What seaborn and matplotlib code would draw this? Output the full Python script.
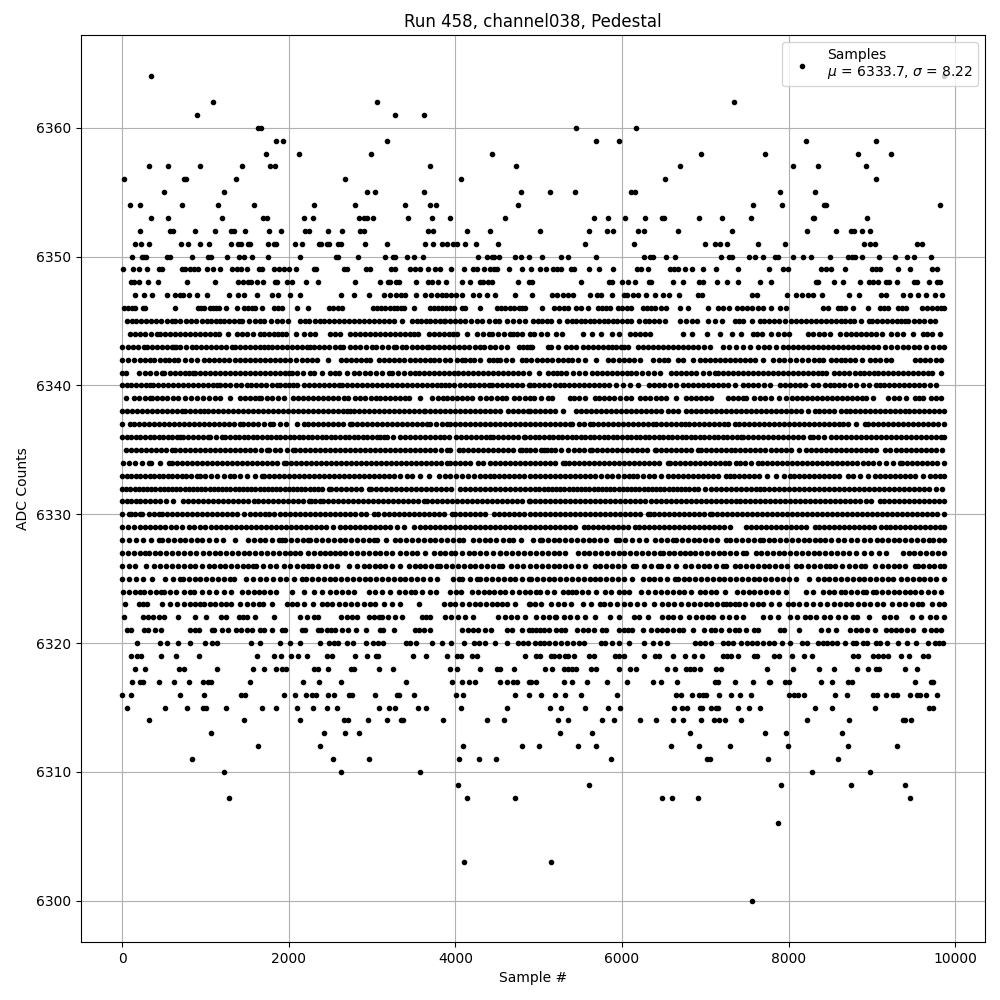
import matplotlib
matplotlib.use("Agg")
import matplotlib.pyplot as plt
import pandas as pd
import seaborn as sns

# sample numbers per ADC level.
# sparse levels are dot by dot, in the dense middle the dots overlap so positions are estimates
x_6364 = [344, 9864]
x_6362 = [1088, 3056, 7344]
x_6361 = [896, 3272, 3620]
x_6360 = [1632, 1672, 5448, 6168]
x_6359 = [1844, 1928, 3176, 5688, 5964, 8208, 9048]
x_6358 = [1724, 2120, 2984, 4436, 6948, 7716, 8832, 9228]
x_6357 = [320, 552, 932, 1436, 1772, 1832, 3692, 4724, 6696, 8052, 8352, 8928]
x_6356 = [20, 740, 772, 1364, 2672, 4064, 6516, 9048]
x_6355 = [500, 1220, 2936, 3032, 3620, 4784, 5136, 5436, 6108, 6156, 7896, 8316]
x_6354 = [92, 212, 716, 1148, 1580, 2300, 2792, 3392, 3692, 3764, 4748, 7572, 7920, 8424, 8448, 9816]
x_6353 = [344, 552, 1196, 1688, 1736, 2180, 2288, 2840, 2900, 2936, 3008, 3428, 3716, 3932, 4592, 5664, 5832, 6036,
          6276, 6480, 6504, 6924, 7200, 7548, 8292, 8304, 8940]
x_6352 = [212, 580, 612, 872, 1112, 1308, 1340, 1472, 1760, 1904, 2192, 2240, 2468, 2636, 2860, 2900, 3668, 3728,
          4136, 4420, 5016, 5604, 5820, 5892, 6192, 6264, 6672, 7320, 8220, 8568, 8748, 8784, 8880, 8976]
x_6351 = [152, 224, 320, 704, 788, 932, 1040, 1304, 1392, 1428, 1508, 1540, 1748, 1820, 1852, 2072, 2156, 2360, 2388,
          2460, 2484, 2588, 2632, 2912, 3176, 3632, 3728, 3836, 3896, 3968, 4016, 4112, 4244, 4508, 5556, 6144, 6996,
          7116, 7176, 7260, 7632, 7956, 8904, 8976, 9036, 9540, 9600]
x_6350 = [116, 236, 260, 288, 540, 572, 836, 1028, 1068, 1256, 1400, 1460, 1556, 1748, 2132, 2564, 2588, 2828, 3152,
          3248, 3276, 3416, 3500, 3608, 4268, 4376, 4436, 4460, 4520, 4712, 4784, 4880, 5040, 5268, 5352, 5688, 6264,
          6336, 6372, 6528, 6636, 7188, 7284, 7320, 7524, 7596, 7692, 7836, 7872, 8052, 8172, 8268, 8496, 8712, 8760,
          8796, 8880, 9084, 9276, 9420, 9504, 9708]
x_6349 = [8, 128, 200, 296, 440, 476, 716, 752, 812, 860, 908, 1016, 1088, 1172, 1316, 1376, 1424, 1496, 1640, 1676,
          1820, 1880, 1940, 2000, 2084, 2300, 2324, 2660, 2696, 2924, 2972, 3224, 3272, 3452, 3512, 3572, 3668, 3752,
          3812, 3944, 4100, 4208, 4260, 4340, 4412, 4460, 4496, 4640, 4796, 4912, 5016, 5092, 5172, 5220, 5268, 5388,
          5424, 5604, 5724, 5892, 6180, 6228, 6312, 6576, 6624, 6672, 6756, 6840, 6972, 7128, 7392, 7764, 7932, 7992,
          8388, 8448, 8508, 8676, 9000, 9048, 9096, 9312, 9456, 9720, 9780]
x_6348 = [104, 140, 200, 308, 428, 776, 1112, 1388, 1448, 1508, 1544, 1616, 1688, 1832, 1860, 1976, 2036, 2204, 2348,
          2792, 3092, 3188, 3212, 3284, 3320, 3524, 3668, 3716, 3788, 3884, 4076, 4172, 4292, 4328, 4388, 4436, 4748,
          4880, 4920, 5508, 5844, 5880, 6000, 6072, 6156, 6324, 6348, 6612, 6732, 6924, 6972, 7140, 7260, 7392, 7656,
          7788, 8328, 8352, 8544, 8652, 8856, 8964, 9012, 9072, 9168, 9204, 9300, 9504, 9540, 9684, 9780, 9816]
x_6347 = [152, 260, 356, 536, 632, 692, 728, 800, 896, 1016, 1280, 1388, 1460, 1616, 1796, 1868, 2012, 2132, 2624,
          2780, 2960, 3140, 3212, 3284, 3344, 3392, 3524, 3632, 3704, 3776, 3836, 3884, 3944, 4004, 4076, 4208, 4280,
          4376, 4472, 4712, 4920, 5160, 5220, 5292, 5352, 5412, 5616, 5700, 5748, 5880, 6024, 6060, 6132, 6192, 6284,
          6396, 6492, 6564, 6684, 6912, 6960, 7560, 7620, 7984, 8088, 8160, 8232, 8292, 8400, 8724, 8844, 9108, 9168,
          9372, 9456, 9552, 9648, 9756, 9840]
x_6346 = [28, 70, 115, 160, 252, 280, 632, 908, 950, 988, 1052, 1095, 1132, 1168, 1252, 1376, 1468, 1510, 1555, 1600,
          1680, 1828, 1875, 1920, 2096, 2228, 2480, 2530, 2590, 2640, 3012, 3060, 3110, 3160, 3215, 3260, 3300, 3345,
          3388, 3500, 3692, 3740, 3790, 3840, 3890, 3935, 3980, 4080, 4120, 4292, 4500, 4550, 4600, 4650, 4700, 4760,
          4800, 4840, 5044, 5180, 5244, 5300, 5352, 5452, 5512, 5592, 5712, 5760, 5810, 5852, 5952, 6000, 6060, 6112,
          6252, 6300, 6350, 6400, 6470, 6524, 6700, 6796, 7032, 7152, 7215, 7280, 7380, 7440, 7500, 7560, 7630, 7692,
          7788, 7900, 7972, 8412, 8472, 8592, 8630, 8672, 8772, 8948, 9092, 9140, 9192, 9312, 9360, 9412, 9604, 9660,
          9720, 9780, 9830, 9860]
x_6345 = [60, 115, 170, 230, 290, 350, 410, 470, 535, 600, 640, 700, 765, 828, 888, 960, 1015, 1070, 1125, 1180, 1220,
          1280, 1340, 1400, 1440, 1520, 1600, 1650, 1700, 1792, 1860, 1925, 1988, 2132, 2190, 2240, 2320, 2370, 2420,
          2480, 2540, 2600, 2660, 2720, 2780, 2840, 2900, 2960, 3020, 3080, 3140, 3205, 3268, 3360, 3480, 3535, 3590,
          3645, 3700, 3755, 3810, 3860, 3880, 3940, 4000, 4060, 4120, 4190, 4260, 4320, 4400, 4480, 4520, 4620, 4690,
          4760, 4830, 4932, 4990, 5045, 5100, 5152, 5244, 5340, 5395, 5450, 5505, 5560, 5615, 5670, 5725, 5780, 5835,
          5890, 5945, 6000, 6055, 6112, 6204, 6272, 6330, 6390, 6450, 6512, 6700, 6770, 6840, 6904, 7032, 7120, 7204,
          7352, 7400, 7452, 7560, 7652, 7710, 7770, 7830, 7890, 7960, 8032, 8092, 8150, 8210, 8270, 8330, 8390, 8450,
          8510, 8570, 8630, 8680, 8732, 8780, 8870, 8964, 9004, 9060, 9120, 9180, 9240, 9300, 9350, 9396, 9432, 9500,
          9560, 9630, 9692, 9760]
x_6344 = [100, 160, 220, 280, 350, 420, 460, 520, 580, 640, 700, 760, 820, 880, 940, 1000, 1055, 1112, 1168, 1268,
          1380, 1440, 1500, 1575, 1652, 1700, 1765, 1828, 1868, 1920, 1972, 2084, 2188, 2250, 2320, 2492, 2550, 2612,
          2732, 2790, 2850, 2910, 2970, 3030, 3090, 3150, 3210, 3270, 3330, 3390, 3450, 3500, 3552, 3680, 3740, 3800,
          3860, 3920, 3970, 4020, 4140, 4260, 4330, 4400, 4440, 4510, 4580, 4652, 4692, 4745, 4800, 4892, 4950, 5025,
          5100, 5212, 5280, 5532, 5640, 5748, 5880, 5964, 6100, 6160, 6220, 6280, 6332, 6732, 6840, 7020, 7176, 7320,
          7428, 7572, 7625, 7680, 7788, 7872, 7940, 8004, 8232, 8295, 8360, 8425, 8492, 8612, 8692, 8750, 8810, 8870,
          8930, 8990, 9050, 9120, 9232, 9300, 9372, 9492, 9612, 9660, 9724, 9820]
x_6343 = [0, 65, 130, 195, 260, 300, 360, 420, 480, 540, 600, 628, 652, 700, 764, 844, 892, 950, 1010, 1070, 1130,
          1190, 1250, 1320, 1360, 1420, 1480, 1540, 1600, 1650, 1700, 1748, 1805, 1860, 1920, 1980, 2040, 2100, 2160,
          2215, 2260, 2300, 2360, 2420, 2480, 2550, 2612, 2652, 2730, 2800, 2860, 2930, 3000, 3052, 3120, 3190, 3260,
          3292, 3360, 3412, 3475, 3540, 3600, 3660, 3680, 3740, 3800, 3860, 3920, 3980, 4040, 4100, 4160, 4230, 4300,
          4340, 4410, 4480, 4550, 4620, 4760, 4810, 4860, 4892, 4924, 5112, 5152, 5232, 5332, 5392, 5444, 5532, 5590,
          5650, 5710, 5770, 5830, 5880, 5932, 5992, 6030, 6072, 6192, 6250, 6310, 6370, 6430, 6490, 6550, 6610, 6670,
          6730, 6790, 6850, 6910, 6980, 7052, 7212, 7290, 7372, 7452, 7532, 7632, 7700, 7770, 7850, 7932, 7992, 8050,
          8110, 8170, 8230, 8290, 8350, 8410, 8470, 8530, 8592, 8652, 8710, 8770, 8830, 8890, 8950, 9010, 9070, 9152,
          9232, 9300, 9370, 9432, 9500, 9570, 9652, 9732, 9800, 9860]
x_6342 = [0, 70, 140, 212, 280, 335, 388, 452, 510, 565, 620, 668, 760, 830, 900, 980, 1040, 1100, 1160, 1220, 1280,
          1350, 1420, 1480, 1540, 1600, 1660, 1720, 1780, 1840, 1900, 1960, 2020, 2090, 2160, 2220, 2280, 2340, 2468,
          2628, 2690, 2750, 2810, 2870, 2930, 2980, 3080, 3140, 3200, 3260, 3320, 3380, 3450, 3520, 3580, 3640, 3700,
          3740, 3800, 3870, 3940, 4020, 4080, 4120, 4170, 4220, 4300, 4400, 4450, 4500, 4540, 4610, 4680, 4800, 4850,
          4912, 4975, 5040, 5100, 5165, 5232, 5292, 5350, 5404, 5472, 5552, 5692, 5832, 5895, 5960, 6020, 6085, 6150,
          6212, 6372, 6440, 6500, 6552, 6672, 6732, 6852, 6932, 6992, 7052, 7115, 7180, 7240, 7300, 7360, 7420, 7472,
          7532, 7592, 7692, 7812, 7880, 7950, 8020, 8090, 8160, 8230, 8300, 8360, 8412, 8512, 8570, 8630, 8680, 8732,
          8792, 8880, 8972, 9032, 9100, 9165, 9232, 9512, 9575, 9640, 9700, 9770, 9832]
x_6341 = [0, 52, 200, 270, 340, 410, 480, 508, 570, 630, 690, 750, 800, 852, 880, 940, 1000, 1060, 1120, 1180, 1240,
          1300, 1360, 1420, 1480, 1540, 1600, 1660, 1720, 1780, 1840, 1900, 1950, 2000, 2040, 2100, 2175, 2252, 2300,
          2400, 2500, 2550, 2600, 2700, 2780, 2840, 2910, 2980, 3050, 3120, 3200, 3240, 3310, 3380, 3450, 3520, 3560,
          3620, 3680, 3740, 3800, 3860, 3920, 3980, 4028, 4090, 4150, 4210, 4270, 4330, 4390, 4450, 4510, 4570, 4630,
          4690, 4750, 4815, 4880, 5004, 5112, 5170, 5225, 5272, 5332, 5410, 5490, 5552, 5644, 5700, 5760, 5820, 5880,
          5940, 6000, 6060, 6112, 6172, 6240, 6310, 6380, 6460, 6592, 6652, 6710, 6770, 6830, 6892, 6972, 7040, 7112,
          7152, 7210, 7270, 7330, 7390, 7450, 7510, 7570, 7630, 7690, 7750, 7810, 7870, 7930, 7990, 8050, 8110, 8170,
          8230, 8290, 8350, 8400, 8452, 8540, 8600, 8660, 8730, 8792, 8852, 8910, 8970, 9020, 9072, 9132, 9190, 9250,
          9310, 9370, 9430, 9490, 9552, 9612, 9670, 9724, 9832]
x_6340 = [0, 55, 110, 170, 225, 285, 340, 372, 430, 490, 550, 610, 670, 730, 790, 850, 910, 970, 1030, 1090, 1140, 1180,
          1240, 1300, 1365, 1428, 1500, 1552, 1610, 1670, 1730, 1800, 1860, 1900, 1950, 2000, 2050, 2100, 2180, 2240,
          2300, 2360, 2420, 2480, 2540, 2600, 2640, 2700, 2760, 2820, 2880, 2940, 3000, 3060, 3120, 3180, 3240, 3300,
          3360, 3420, 3480, 3540, 3600, 3660, 3720, 3780, 3830, 3880, 3920, 3985, 4050, 4115, 4180, 4228, 4285, 4345,
          4400, 4440, 4500, 4560, 4620, 4680, 4740, 4800, 4880, 4892, 4950, 5010, 5070, 5130, 5192, 5252, 5310, 5370,
          5430, 5490, 5550, 5610, 5670, 5730, 5790, 5850, 5932, 6012, 6092, 6192, 6324, 6380, 6440, 6500, 6580, 6652,
          6732, 6790, 6850, 6910, 6970, 7030, 7090, 7150, 7210, 7270, 7352, 7452, 7510, 7570, 7630, 7700, 7772, 7900,
          7960, 8020, 8080, 8140, 8200, 8292, 8352, 8432, 8492, 8550, 8610, 8670, 8740, 8812, 8892, 8970, 9052, 9092,
          9150, 9210, 9270, 9330, 9390, 9450, 9510, 9570, 9630, 9700, 9772]
x_6339 = [48, 140, 200, 270, 340, 360, 420, 480, 540, 610, 668, 760, 830, 900, 970, 1040, 1110, 1172, 1292, 1420, 1480,
          1540, 1590, 1640, 1668, 1735, 1800, 1872, 1940, 2052, 2110, 2170, 2230, 2290, 2350, 2410, 2470, 2530, 2595,
          2660, 2708, 2800, 2860, 2920, 2985, 3052, 3100, 3160, 3220, 3280, 3340, 3390, 3440, 3572, 3720, 3788, 3850,
          3905, 3960, 4020, 4080, 4140, 4200, 4300, 4365, 4430, 4495, 4560, 4612, 4700, 4765, 4830, 4900, 4950, 5032,
          5112, 5164, 5372, 5430, 5490, 5552, 5672, 5730, 5790, 5850, 5910, 5980, 6050, 6112, 6212, 6275, 6340, 6405,
          6472, 6532, 6652, 6772, 6830, 6890, 6950, 7010, 7072, 7272, 7330, 7390, 7452, 7492, 7580, 7652, 7720, 7792,
          7884, 7972, 8040, 8100, 8160, 8220, 8280, 8340, 8400, 8460, 8520, 8580, 8640, 8700, 8760, 8820, 8880, 8932,
          9012, 9192, 9260, 9330, 9412, 9512, 9565, 9612, 9712, 9770, 9832]
x_6338 = [0, 60, 120, 180, 240, 300, 360, 420, 480, 540, 600, 660, 720, 760, 820, 880, 930, 980, 1028, 1090, 1150, 1210,
          1270, 1330, 1390, 1450, 1510, 1570, 1630, 1690, 1750, 1810, 1870, 1930, 1990, 2050, 2110, 2170, 2230, 2290,
          2350, 2410, 2470, 2530, 2590, 2650, 2700, 2740, 2780, 2840, 2900, 2960, 3020, 3080, 3140, 3200, 3260, 3320,
          3380, 3440, 3500, 3560, 3620, 3640, 3700, 3760, 3820, 3880, 3940, 4000, 4060, 4120, 4180, 4240, 4300, 4360,
          4420, 4480, 4540, 4628, 4690, 4750, 4810, 4870, 4900, 4960, 5020, 5080, 5140, 5200, 5292, 5452, 5510, 5570,
          5630, 5690, 5750, 5810, 5870, 5930, 5990, 6050, 6110, 6170, 6230, 6290, 6350, 6410, 6470, 6552, 6612, 6672,
          6772, 6830, 6890, 6950, 7010, 7070, 7130, 7190, 7250, 7310, 7370, 7430, 7490, 7550, 7610, 7670, 7730, 7790,
          7850, 7910, 7970, 8030, 8090, 8150, 8232, 8312, 8370, 8430, 8490, 8550, 8632, 8684, 8740, 8800, 8860, 8920,
          8980, 9040, 9100, 9160, 9220, 9280, 9340, 9392, 9444, 9500, 9560, 9620, 9680, 9740, 9800, 9860]
x_6337 = [0, 100, 140, 200, 260, 320, 380, 440, 500, 560, 620, 680, 740, 800, 860, 920, 980, 1040, 1100, 1160, 1220,
          1280, 1340, 1420, 1452, 1510, 1570, 1630, 1700, 1780, 1812, 1890, 1972, 2100, 2180, 2228, 2290, 2350, 2410,
          2470, 2530, 2590, 2650, 2740, 2760, 2820, 2880, 2940, 3000, 3060, 3120, 3180, 3240, 3300, 3360, 3420, 3480,
          3540, 3600, 3660, 3700, 3770, 3840, 3900, 3940, 4000, 4060, 4120, 4180, 4240, 4300, 4360, 4420, 4480, 4540,
          4600, 4660, 4720, 4780, 4840, 4900, 4960, 5020, 5080, 5140, 5200, 5260, 5320, 5372, 5404, 5480, 5550, 5612,
          5652, 5710, 5770, 5830, 5890, 5950, 6010, 6070, 6130, 6190, 6250, 6310, 6372, 6412, 6470, 6530, 6590, 6650,
          6712, 6752, 6810, 6870, 6930, 6990, 7050, 7110, 7170, 7220, 7272, 7352, 7410, 7470, 7530, 7590, 7650, 7710,
          7770, 7830, 7890, 7950, 8010, 8070, 8130, 8190, 8250, 8310, 8370, 8430, 8490, 8550, 8610, 8652, 8712, 8810,
          8912, 8952, 9010, 9070, 9130, 9190, 9250, 9310, 9370, 9430, 9490, 9550, 9610, 9670, 9732, 9792, 9864]
x_6336 = [0, 55, 110, 165, 220, 275, 330, 385, 440, 495, 550, 605, 660, 700, 732, 790, 850, 910, 970, 1028, 1060, 1130,
          1200, 1240, 1295, 1350, 1405, 1460, 1515, 1570, 1625, 1680, 1735, 1790, 1845, 1900, 1955, 2010, 2065, 2120,
          2175, 2230, 2285, 2340, 2395, 2450, 2505, 2560, 2615, 2670, 2725, 2780, 2835, 2890, 2945, 3000, 3055, 3100,
          3140, 3180, 3250, 3330, 3400, 3452, 3510, 3570, 3630, 3690, 3750, 3810, 3860, 3920, 4012, 4070, 4130, 4190,
          4250, 4310, 4370, 4420, 4452, 4510, 4570, 4630, 4690, 4750, 4820, 4840, 4900, 4955, 5010, 5065, 5120, 5175,
          5230, 5285, 5340, 5395, 5450, 5505, 5560, 5615, 5670, 5725, 5780, 5835, 5890, 5945, 6000, 6055, 6110, 6165,
          6220, 6275, 6330, 6385, 6440, 6495, 6550, 6605, 6660, 6715, 6770, 6825, 6880, 6935, 6990, 7045, 7100, 7155,
          7210, 7265, 7320, 7375, 7432, 7452, 7510, 7570, 7630, 7690, 7750, 7810, 7870, 7930, 7990, 8050, 8110, 8170,
          8260, 8292, 8350, 8420, 8512, 8572, 8630, 8690, 8750, 8810, 8870, 8930, 8990, 9050, 9110, 9170, 9230, 9290,
          9350, 9410, 9470, 9530, 9590, 9650, 9710, 9770, 9830, 9864]
x_6335 = [52, 110, 170, 230, 290, 350, 410, 470, 530, 600, 640, 700, 760, 820, 880, 940, 1000, 1060, 1120, 1180, 1240,
          1300, 1360, 1420, 1480, 1540, 1600, 1670, 1740, 1760, 1830, 1900, 1975, 2052, 2080, 2140, 2200, 2260, 2320,
          2380, 2440, 2500, 2560, 2620, 2680, 2740, 2800, 2860, 2920, 2980, 3040, 3100, 3160, 3220, 3280, 3340, 3400,
          3460, 3520, 3580, 3640, 3700, 3760, 3830, 3900, 3940, 4040, 4092, 4150, 4210, 4270, 4330, 4390, 4450, 4510,
          4570, 4630, 4690, 4780, 4800, 4850, 4900, 4960, 5032, 5060, 5100, 5152, 5192, 5270, 5352, 5424, 5490, 5550,
          5612, 5644, 5700, 5760, 5820, 5880, 5940, 6000, 6060, 6120, 6180, 6240, 6300, 6392, 6412, 6470, 6530, 6590,
          6650, 6710, 6770, 6830, 6912, 6952, 7010, 7070, 7130, 7190, 7250, 7312, 7360, 7420, 7480, 7540, 7600, 7660,
          7720, 7790, 7852, 7912, 7970, 8030, 8124, 8212, 8270, 8330, 8390, 8450, 8510, 8570, 8630, 8690, 8750, 8810,
          8870, 8930, 8990, 9050, 9152, 9212, 9292, 9350, 9410, 9470, 9530, 9590, 9650, 9710, 9770, 9844]
x_6334 = [12, 80, 150, 235, 320, 348, 450, 560, 600, 660, 720, 780, 840, 900, 960, 1020, 1080, 1140, 1200, 1260, 1320,
          1380, 1440, 1500, 1560, 1620, 1680, 1740, 1800, 1860, 1940, 1964, 2030, 2090, 2150, 2210, 2270, 2330, 2390,
          2450, 2510, 2570, 2630, 2690, 2750, 2810, 2870, 2930, 2990, 3050, 3110, 3170, 3230, 3290, 3350, 3410, 3470,
          3530, 3590, 3650, 3710, 3770, 3830, 3900, 3940, 4000, 4060, 4120, 4180, 4268, 4332, 4412, 4470, 4530, 4590,
          4650, 4710, 4770, 4830, 4900, 4960, 5020, 5080, 5140, 5200, 5292, 5312, 5370, 5430, 5490, 5550, 5610, 5670,
          5730, 5790, 5850, 5910, 5970, 6030, 6090, 6150, 6210, 6270, 6330, 6390, 6450, 6552, 6580, 6640, 6700, 6760,
          6820, 6880, 6940, 7000, 7060, 7120, 7180, 7232, 7280, 7372, 7420, 7480, 7550, 7632, 7680, 7740, 7800, 7860,
          7920, 7980, 8040, 8100, 8160, 8220, 8280, 8340, 8400, 8460, 8520, 8580, 8640, 8700, 8760, 8820, 8892, 8952,
          9012, 9090, 9170, 9250, 9332, 9364, 9420, 9480, 9540, 9600, 9660, 9720, 9780, 9864]
x_6333 = [0, 55, 110, 165, 220, 275, 330, 385, 440, 495, 550, 605, 660, 715, 770, 825, 900, 932, 1000, 1070, 1140, 1220,
          1300, 1340, 1420, 1500, 1590, 1680, 1700, 1760, 1820, 1880, 1940, 2000, 2060, 2120, 2180, 2240, 2300, 2360,
          2420, 2480, 2540, 2600, 2660, 2720, 2780, 2840, 2900, 2960, 3020, 3080, 3140, 3200, 3260, 3340, 3420, 3480,
          3580, 3680, 3800, 3872, 3940, 4010, 4080, 4150, 4220, 4290, 4360, 4420, 4460, 4520, 4580, 4640, 4700, 4760,
          4820, 4900, 4960, 5020, 5080, 5140, 5200, 5260, 5320, 5380, 5440, 5500, 5560, 5620, 5680, 5750, 5820, 5880,
          5950, 6020, 6080, 6132, 6180, 6250, 6320, 6390, 6470, 6552, 6612, 6670, 6730, 6790, 6850, 6910, 6970, 7030,
          7090, 7150, 7252, 7292, 7350, 7410, 7470, 7530, 7590, 7650, 7740, 7844, 7940, 8012, 8070, 8130, 8190, 8250,
          8310, 8370, 8430, 8490, 8550, 8610, 8712, 8772, 8860, 8952, 9040, 9100, 9160, 9220, 9280, 9340, 9400, 9460,
          9520, 9612, 9700, 9760, 9820, 9864]
x_6332 = [0, 50, 100, 150, 200, 250, 300, 350, 400, 450, 500, 550, 600, 650, 700, 750, 800, 850, 900, 950, 1000, 1050,
          1100, 1150, 1200, 1250, 1300, 1350, 1400, 1450, 1500, 1550, 1600, 1650, 1700, 1750, 1800, 1850, 1900, 1950,
          2000, 2050, 2100, 2150, 2200, 2250, 2300, 2350, 2400, 2480, 2508, 2570, 2630, 2690, 2750, 2810, 2870, 2960,
          2988, 3050, 3110, 3170, 3230, 3290, 3350, 3410, 3470, 3530, 3590, 3650, 3710, 3770, 3830, 3890, 3950, 4060,
          4120, 4180, 4240, 4300, 4360, 4420, 4480, 4540, 4600, 4660, 4720, 4780, 4840, 4900, 4960, 5010, 5060, 5110,
          5160, 5210, 5260, 5310, 5360, 5410, 5460, 5510, 5560, 5610, 5660, 5710, 5760, 5810, 5860, 5910, 5960, 6010,
          6060, 6110, 6160, 6210, 6260, 6310, 6360, 6410, 6460, 6510, 6560, 6610, 6660, 6710, 6760, 6810, 6860, 6910,
          6992, 7072, 7130, 7190, 7250, 7310, 7370, 7430, 7490, 7550, 7612, 7652, 7710, 7770, 7830, 7890, 7950, 8010,
          8070, 8130, 8190, 8250, 8310, 8370, 8430, 8490, 8550, 8610, 8670, 8730, 8790, 8850, 8910, 8970, 9030, 9090,
          9150, 9210, 9270, 9330, 9390, 9450, 9510, 9570, 9630, 9690, 9764, 9844]
x_6331 = [0, 55, 110, 165, 220, 275, 330, 390, 452, 532, 612, 732, 790, 850, 910, 970, 1030, 1090, 1150, 1210, 1270,
          1330, 1390, 1450, 1510, 1580, 1628, 1690, 1750, 1810, 1870, 1930, 1990, 2050, 2110, 2170, 2240, 2268, 2320,
          2380, 2412, 2470, 2530, 2590, 2650, 2710, 2770, 2830, 2890, 2950, 3010, 3070, 3130, 3190, 3250, 3310, 3370,
          3430, 3490, 3550, 3620, 3660, 3720, 3780, 3840, 3900, 3960, 4020, 4080, 4140, 4200, 4260, 4320, 4380, 4440,
          4500, 4560, 4620, 4680, 4740, 4800, 4880, 4900, 4960, 5020, 5080, 5140, 5200, 5260, 5320, 5380, 5440, 5500,
          5560, 5620, 5680, 5740, 5800, 5860, 5920, 5980, 6040, 6100, 6160, 6220, 6280, 6352, 6412, 6470, 6530, 6590,
          6650, 6710, 6770, 6830, 6890, 6950, 7010, 7070, 7130, 7190, 7250, 7310, 7372, 7420, 7480, 7540, 7600, 7660,
          7720, 7780, 7840, 7900, 7960, 8020, 8080, 8140, 8200, 8260, 8320, 8380, 8440, 8500, 8560, 8620, 8680, 8740,
          8800, 8860, 8930, 8992, 9092, 9150, 9210, 9270, 9330, 9390, 9450, 9510, 9570, 9630, 9690, 9750, 9810, 9864]
x_6330 = [0, 80, 108, 160, 212, 240, 320, 380, 440, 480, 540, 600, 660, 720, 780, 840, 900, 960, 1020, 1080, 1140, 1200,
          1260, 1320, 1380, 1468, 1532, 1590, 1650, 1710, 1760, 1828, 1890, 1950, 2010, 2070, 2130, 2190, 2250, 2310,
          2370, 2430, 2490, 2550, 2610, 2670, 2730, 2800, 2868, 2932, 3020, 3068, 3140, 3200, 3260, 3320, 3380, 3440,
          3500, 3560, 3620, 3680, 3740, 3800, 3860, 3960, 4000, 4060, 4120, 4180, 4240, 4300, 4352, 4460, 4520, 4580,
          4640, 4700, 4760, 4820, 4900, 4960, 5020, 5080, 5140, 5200, 5260, 5320, 5380, 5440, 5500, 5560, 5620, 5680,
          5740, 5800, 5860, 5920, 5980, 6040, 6100, 6160, 6220, 6312, 6340, 6380, 6440, 6500, 6560, 6620, 6680, 6740,
          6800, 6860, 6920, 6980, 7052, 7084, 7140, 7200, 7260, 7320, 7380, 7440, 7500, 7560, 7620, 7680, 7740, 7800,
          7860, 7920, 7980, 8040, 8100, 8160, 8220, 8280, 8340, 8400, 8460, 8520, 8580, 8640, 8700, 8760, 8820, 8880,
          8940, 9000, 9060, 9120, 9180, 9240, 9300, 9360, 9420, 9480, 9540, 9600, 9660, 9720, 9780, 9864]
x_6329 = [0, 70, 140, 212, 280, 340, 400, 460, 520, 585, 652, 720, 800, 860, 932, 1000, 1068, 1130, 1190, 1250, 1310,
          1370, 1430, 1490, 1550, 1610, 1670, 1730, 1790, 1850, 1910, 1970, 2030, 2090, 2150, 2210, 2270, 2330, 2390,
          2450, 2530, 2612, 2672, 2730, 2790, 2850, 2910, 2970, 3030, 3100, 3160, 3212, 3300, 3388, 3508, 3570, 3630,
          3690, 3750, 3810, 3870, 3930, 3990, 4050, 4110, 4170, 4230, 4290, 4350, 4410, 4470, 4530, 4590, 4650, 4710,
          4770, 4830, 4900, 4960, 5020, 5080, 5140, 5200, 5260, 5320, 5380, 5440, 5540, 5592, 5650, 5710, 5770, 5830,
          5890, 5950, 6010, 6072, 6152, 6210, 6270, 6330, 6390, 6450, 6510, 6570, 6630, 6690, 6750, 6810, 6870, 6930,
          6990, 7050, 7110, 7170, 7230, 7300, 7492, 7550, 7610, 7670, 7730, 7790, 7850, 7910, 7970, 8030, 8090, 8150,
          8204, 8312, 8370, 8430, 8490, 8550, 8610, 8670, 8730, 8790, 8850, 8910, 8970, 9030, 9112, 9164, 9220, 9280,
          9340, 9400, 9460, 9520, 9580, 9640, 9700, 9760, 9820, 9864]
x_6328 = [0, 80, 170, 252, 348, 440, 480, 550, 620, 690, 760, 830, 900, 960, 1040, 1130, 1212, 1360, 1512, 1580, 1650,
          1720, 1800, 1880, 1920, 1960, 2030, 2100, 2170, 2228, 2260, 2330, 2400, 2470, 2540, 2610, 2680, 2750, 2820,
          2890, 2960, 3020, 3060, 3170, 3280, 3340, 3410, 3480, 3550, 3620, 3690, 3760, 3830, 3900, 3970, 4040, 4092,
          4212, 4280, 4350, 4420, 4490, 4570, 4640, 4692, 4788, 4932, 5012, 5044, 5110, 5180, 5250, 5320, 5390, 5460,
          5530, 5600, 5670, 5740, 5810, 5924, 5964, 6040, 6120, 6200, 6284, 6392, 6470, 6540, 6612, 6652, 6720, 6790,
          6860, 6930, 7000, 7070, 7140, 7252, 7292, 7370, 7440, 7510, 7580, 7652, 7692, 7760, 7830, 7900, 7970, 8040,
          8110, 8180, 8250, 8320, 8372, 8432, 8510, 8590, 8670, 8752, 8820, 8900, 8980, 9060, 9124, 9192, 9260, 9330,
          9400, 9470, 9540, 9610, 9684, 9732, 9800, 9864]
x_6327 = [0, 70, 140, 210, 280, 320, 390, 460, 530, 600, 670, 740, 810, 890, 972, 1040, 1110, 1180, 1250, 1320, 1390,
          1460, 1520, 1600, 1670, 1740, 1810, 1880, 1950, 2020, 2080, 2140, 2228, 2300, 2370, 2440, 2500, 2560, 2612,
          2680, 2750, 2820, 2890, 2960, 3030, 3100, 3170, 3240, 3340, 3412, 3480, 3540, 3640, 3740, 3810, 3880, 3948,
          4000, 4080, 4160, 4228, 4300, 4370, 4450, 4532, 4540, 4610, 4680, 4750, 4820, 4900, 4970, 5040, 5110, 5180,
          5250, 5312, 5472, 5540, 5610, 5680, 5750, 5820, 5890, 5960, 6030, 6100, 6170, 6240, 6310, 6380, 6452, 6492,
          6560, 6630, 6700, 6760, 6812, 6880, 6950, 7020, 7090, 7160, 7230, 7300, 7370, 7452, 7492, 7604, 7670, 7740,
          7810, 7880, 7950, 8020, 8090, 8160, 8230, 8300, 8370, 8440, 8510, 8580, 8650, 8720, 8812, 8904, 8990, 9080,
          9172, 9372, 9440, 9510, 9580, 9650, 9720, 9790, 9864]
x_6326 = [0, 80, 160, 292, 388, 460, 530, 600, 670, 740, 810, 880, 960, 1040, 1100, 1170, 1240, 1310, 1380, 1450, 1510,
          1572, 1612, 1690, 1770, 1850, 1940, 2020, 2100, 2172, 2228, 2280, 2350, 2430, 2508, 2580, 2720, 2820, 2908,
          2960, 3030, 3100, 3160, 3240, 3340, 3440, 3520, 3572, 3640, 3710, 3780, 3820, 3890, 3960, 4030, 4100, 4170,
          4240, 4310, 4380, 4450, 4520, 4560, 4668, 4740, 4810, 4900, 4970, 5040, 5110, 5180, 5250, 5320, 5390, 5470,
          5552, 5672, 5740, 5810, 5880, 5950, 6020, 6132, 6172, 6260, 6350, 6432, 6472, 6552, 6652, 6752, 6832, 6912,
          6980, 7050, 7130, 7212, 7252, 7352, 7420, 7490, 7560, 7630, 7700, 7770, 7840, 7910, 7980, 8092, 8152, 8230,
          8300, 8380, 8452, 8492, 8560, 8640, 8720, 8800, 8872, 8912, 9032, 9124, 9190, 9260, 9330, 9400, 9512, 9552,
          9612, 9680, 9750, 9820, 9864]
x_6325 = [0, 80, 170, 252, 360, 520, 610, 692, 732, 800, 870, 940, 1010, 1080, 1150, 1220, 1290, 1340, 1492, 1570, 1650,
          1730, 1810, 1890, 1970, 2060, 2160, 2212, 2280, 2350, 2420, 2490, 2560, 2630, 2700, 2770, 2840, 2910, 2980,
          3050, 3120, 3190, 3260, 3330, 3400, 3470, 3540, 3610, 3700, 3780, 3972, 4040, 4080, 4170, 4260, 4300, 4370,
          4440, 4510, 4580, 4650, 4720, 4800, 4880, 4912, 4980, 5050, 5120, 5190, 5260, 5330, 5400, 5470, 5550, 5620,
          5672, 5740, 5810, 5880, 5950, 6020, 6124, 6252, 6320, 6390, 6460, 6540, 6632, 6672, 6740, 6810, 6880, 6950,
          7020, 7090, 7160, 7230, 7300, 7370, 7440, 7510, 7580, 7650, 7720, 7790, 7860, 7930, 8000, 8092, 8244, 8352,
          8420, 8490, 8560, 8630, 8700, 8770, 8840, 8910, 8980, 9050, 9120, 9190, 9252, 9352, 9420, 9490, 9560, 9630,
          9700, 9770, 9864]
x_6324 = [12, 80, 150, 220, 260, 340, 410, 468, 508, 580, 650, 740, 820, 868, 960, 1040, 1130, 1220, 1308, 1440, 1510,
          1580, 1640, 1700, 1780, 1852, 2036, 2180, 2300, 2400, 2500, 2570, 2640, 2710, 2780, 2960, 3030, 3120, 3212,
          3320, 3400, 3470, 3520, 3600, 3690, 3772, 3940, 4010, 4068, 4200, 4270, 4340, 4400, 4460, 4530, 4600, 4680,
          4760, 4830, 4900, 4964, 5012, 5100, 5190, 5292, 5352, 5400, 5452, 5520, 5592, 5690, 5792, 5864, 5964, 6020,
          6084, 6232, 6310, 6400, 6470, 6540, 6612, 6680, 6744, 6832, 6932, 7000, 7072, 7132, 7232, 7380, 7450, 7520,
          7590, 7660, 7730, 7800, 7870, 7972, 8212, 8292, 8412, 8480, 8550, 8632, 8672, 8750, 8820, 8892, 8932, 9012,
          9052, 9120, 9190, 9260, 9330, 9400, 9452, 9512, 9590, 9670, 9750, 9832]
x_6323 = [40, 200, 250, 300, 480, 580, 660, 740, 820, 880, 940, 988, 1050, 1120, 1190, 1252, 1308, 1420, 1500, 1570,
          1640, 1692, 1800, 1980, 2040, 2100, 2180, 2292, 2400, 2460, 2520, 2600, 2680, 2750, 2820, 2900, 2970, 3040,
          3140, 3240, 3332, 3560, 3860, 3930, 4000, 4080, 4160, 4230, 4300, 4370, 4440, 4500, 4560, 4620, 4720, 4880,
          4892, 4960, 5032, 5152, 5230, 5310, 5392, 5532, 5632, 5732, 5790, 5852, 5940, 6020, 6100, 6180, 6260, 6380,
          6484, 6552, 6630, 6710, 6790, 6870, 6940, 7004, 7072, 7140, 7212, 7252, 7300, 7352, 7404, 7480, 7560, 7630,
          7692, 7792, 7890, 7992, 8052, 8130, 8210, 8292, 8380, 8460, 8540, 8620, 8692, 8752, 8832, 8900, 8980, 9060,
          9132, 9244, 9320, 9400, 9480, 9550, 9604, 9724, 9800, 9864]
x_6322 = [20, 252, 310, 370, 440, 500, 668, 880, 1004, 1188, 1252, 1400, 1450, 1500, 1600, 1828, 2132, 2220, 2300, 2352,
          2628, 2700, 2760, 2820, 2960, 3020, 3080, 3120, 3190, 3270, 3360, 3600, 3650, 3700, 3872, 3948, 4030, 4120,
          4212, 4508, 4600, 4670, 4740, 4840, 4972, 5050, 5120, 5192, 5212, 5300, 5380, 5460, 5552, 5672, 5852, 5964,
          6140, 6204, 6312, 6484, 6550, 6612, 6692, 6804, 6892, 6960, 7030, 7092, 7204, 7280, 7370, 7452, 7692, 7780,
          7872, 8012, 8100, 8192, 8252, 8330, 8420, 8500, 8590, 8680, 8772, 8820, 8964, 9140, 9220, 9292, 9484, 9592,
          9692, 9770, 9864]
x_6321 = [56, 104, 260, 308, 392, 464, 812, 872, 920, 1076, 1100, 1196, 1268, 1364, 1424, 1496, 1556, 1652, 1700, 1796,
          1916, 1952, 2156, 2192, 2348, 2384, 2456, 2504, 2552, 2636, 2708, 2804, 2924, 3092, 3128, 3260, 3512, 3560,
          3620, 3692, 4076, 4148, 4208, 4268, 4352, 4424, 4616, 4676, 4796, 4880, 4924, 4972, 5020, 5068, 5128, 5208,
          5268, 5316, 5460, 5532, 5592, 5664, 5760, 5808, 5964, 6024, 6072, 6120, 6252, 6348, 6420, 6480, 6540, 6612,
          6684, 6732, 6852, 6984, 7068, 7116, 7188, 7284, 7356, 7404, 7488, 7584, 7632, 7896, 7944, 8124, 8388, 8472,
          8568, 8736, 8808, 8868, 8940, 9036, 9168, 9228, 9288, 9348, 9420, 9492, 9624, 9708, 9768, 9828]
x_6320 = [176, 452, 536, 668, 812, 992, 1076, 1136, 1544, 1652, 1892, 2012, 2132, 2376, 2480, 2540, 2588, 2696, 2768,
          2924, 3008, 3068, 3128, 3404, 3452, 3524, 3716, 3836, 3944, 4100, 4220, 4280, 4352, 4472, 4616, 4748, 4808,
          4868, 4956, 5012, 5068, 5124, 5196, 5268, 5340, 5412, 5484, 5544, 5748, 5796, 5880, 5964, 6084, 6264, 6372,
          6456, 6540, 6876, 6936, 6996, 7068, 7212, 7272, 7332, 7428, 7500, 7560, 7620, 7692, 7764, 7824, 7920, 8016,
          8160, 8220, 8352, 8412, 8460, 8520, 8580, 8676, 8772, 8808, 8892, 8940, 9048, 9096, 9180, 9312, 9420, 9528,
          9672, 9756, 9804, 9852]
x_6319 = [104, 176, 224, 464, 644, 920, 1616, 1820, 1904, 2024, 2108, 2216, 2456, 2516, 2792, 2936, 3044, 3068, 3488,
          3644, 3896, 4016, 4064, 4196, 4256, 4832, 4972, 5020, 5148, 5184, 5244, 5316, 5352, 5424, 5604, 5664, 5916,
          5964, 6024, 6264, 6396, 6444, 6612, 6756, 6864, 6960, 7212, 7260, 7308, 7392, 7584, 7620, 7824, 7884, 8040,
          8184, 8280, 8772, 8832, 9012, 9072, 9132, 9192, 9348, 9444, 9612, 9672]
x_6318 = [152, 272, 680, 740, 1136, 1568, 1700, 1844, 1916, 1964, 2300, 2348, 2468, 2744, 2780, 3080, 3248, 3932, 4016,
          4292, 4496, 4532, 4700, 5076, 5160, 5304, 5352, 5400, 5448, 5628, 5688, 5964, 6096, 6168, 6540, 6636, 6768,
          6812, 6864, 6936, 7128, 7188, 7740, 8052, 8364, 8544, 8820, 8952, 9048, 9084, 9396, 9540]
x_6317 = [116, 212, 248, 440, 620, 800, 968, 1028, 1064, 1532, 2168, 2360, 2624, 3404, 3956, 4076, 4160, 4232, 4532,
          4616, 4688, 4736, 4880, 4908, 4968, 5304, 5400, 5580, 5820, 6060, 6372, 6468, 6660, 7116, 7152, 7356, 7572,
          7764, 7776, 7956, 8004, 8388, 8520, 8712, 8760, 9516, 9708, 9732]
x_6316 = [0, 104, 692, 980, 1424, 1472, 1940, 2072, 2204, 2276, 2324, 2468, 2540, 2720, 2756, 3032, 3296, 3320, 3500,
          4004, 4088, 4712, 4880, 5028, 5196, 5316, 5508, 5940, 6648, 6708, 6840, 6924, 6972, 7008, 7164, 7308, 7416,
          7548, 8004, 8064, 8112, 8184, 8556, 8700, 9012, 9060, 9168, 9252, 9300, 9456, 9540, 9576, 9648, 9780]
x_6315 = [56, 512, 776, 968, 1004, 1244, 1676, 1844, 2096, 2288, 2456, 2576, 3080, 3200, 3272, 3548, 3644, 4064, 4616,
          5136, 5268, 5556, 5832, 5976, 6624, 6720, 6780, 6936, 6960, 7068, 7128, 7152, 7392, 7524, 7656, 8316, 8520,
          9036, 9684, 9732]
x_6314 = [320, 1460, 2132, 2660, 2708, 2948, 3176, 3344, 3368, 3848, 4376, 4580, 5232, 5352, 5760, 5904, 6216, 6408,
          6612, 6732, 6948, 7104, 7164, 7236, 7428, 8220, 8724, 9372, 9396, 9468]
x_6313 = [1064, 2420, 2672, 2840, 5256, 5640, 6816, 7716, 7968, 8640]
x_6312 = [1628, 2372, 4088, 4796, 5004, 5472, 5688, 6588, 6924, 7296, 7992, 8712, 9300]
x_6311 = [836, 2528, 2960, 4040, 4280, 4484, 5868, 7020, 7056, 7752, 8592]
x_6310 = [1220, 2624, 3572, 8280, 8976]
x_6309 = [4028, 5604, 7908, 8748, 9396]
x_6308 = [1280, 4136, 4712, 6480, 6600, 6912, 9456]
x_6306 = [7872]
x_6303 = [4100, 5148]
x_6300 = [7560]

adc_levels = [6364, 6362, 6361, 6360, 6359, 6358, 6357, 6356, 6355, 6354, 6353, 6352, 6351, 6350, 6349, 6348, 6347,
              6346, 6345, 6344, 6343, 6342, 6341, 6340, 6339, 6338, 6337, 6336, 6335, 6334, 6333, 6332, 6331, 6330,
              6329, 6328, 6327, 6326, 6325, 6324, 6323, 6322, 6321, 6320, 6319, 6318, 6317, 6316, 6315, 6314, 6313,
              6312, 6311, 6310, 6309, 6308, 6306, 6303, 6300]
sample_rows = [x_6364, x_6362, x_6361, x_6360, x_6359, x_6358, x_6357, x_6356, x_6355, x_6354, x_6353, x_6352, x_6351,
               x_6350, x_6349, x_6348, x_6347, x_6346, x_6345, x_6344, x_6343, x_6342, x_6341, x_6340, x_6339, x_6338,
               x_6337, x_6336, x_6335, x_6334, x_6333, x_6332, x_6331, x_6330, x_6329, x_6328, x_6327, x_6326, x_6325,
               x_6324, x_6323, x_6322, x_6321, x_6320, x_6319, x_6318, x_6317, x_6316, x_6315, x_6314, x_6313, x_6312,
               x_6311, x_6310, x_6309, x_6308, x_6306, x_6303, x_6300]


def main():
    rows = []
    for level, samples in zip(adc_levels, sample_rows):
        rows.extend({"sample": s, "adc": level} for s in samples)
    df = pd.DataFrame(rows)

    fig, ax = plt.subplots(figsize=(10, 10), dpi=100)
    sns.scatterplot(
        data=df,
        x="sample",
        y="adc",
        marker=".",
        s=36,
        color="black",
        edgecolor="black",
        linewidth=1,
        label="Samples\n$\\mu$ = 6333.7, $\\sigma$ = 8.22",
        ax=ax,
    )
    ax.grid(True)
    ax.set_axisbelow(True)
    ax.set_xlabel("Sample #")
    ax.set_ylabel("ADC Counts")
    ax.set_title("Run 458, channel038, Pedestal")
    ax.legend(loc="upper right")
    fig.subplots_adjust(left=0.081, right=0.985, top=0.965, bottom=0.058)
    plt.savefig("out.png")
    plt.close()


if __name__ == "__main__":
    main()
